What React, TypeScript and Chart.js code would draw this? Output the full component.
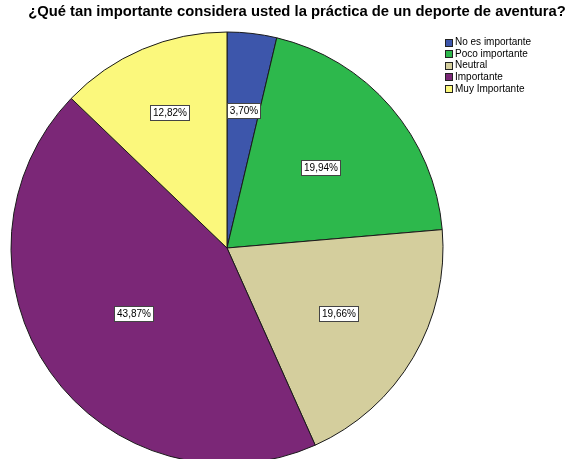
import React, { useEffect, useRef } from "react";
import { Chart, registerables } from "chart.js";

Chart.register(...registerables);

const chartTitle = "¿Qué tan importante considera usted la práctica de un deporte de aventura?";
const categories = ["No es importante", "Poco importante", "Neutral", "Importante", "Muy Importante"];
const percentages = [3.7, 19.94, 19.66, 43.87, 12.82];
const percentLabels = ["3,70%", "19,94%", "19,66%", "43,87%", "12,82%"];
const sliceColors = ["#3D56AB", "#2DB84C", "#D4CE9D", "#7B2777", "#FBF87C"];
const labelRadiusFraction = [0.64, 0.57, 0.6, 0.53, 0.68];

const overlayPlugin = {
  id: "spssOverlay",
  afterDatasetsDraw(chart: any) {
    const ctx = chart.ctx;
    const meta = chart.getDatasetMeta(0);
    ctx.save();
    ctx.font = "10px 'Liberation Sans', Arial, sans-serif";
    ctx.textAlign = "center";
    ctx.textBaseline = "middle";
    meta.data.forEach((arc: any, i: number) => {
      const p = arc.getProps(["x", "y", "startAngle", "endAngle", "outerRadius"], true);
      const mid = (p.startAngle + p.endAngle) / 2;
      const r = p.outerRadius * labelRadiusFraction[i];
      const px = p.x + Math.cos(mid) * r;
      const py = p.y + Math.sin(mid) * r;
      const text = percentLabels[i];
      const w = Math.round(ctx.measureText(text).width + 5);
      const h = 15;
      const bx = Math.round(px - w / 2) + 0.5;
      const by = Math.round(py - h / 2) + 0.5;
      ctx.fillStyle = "#FFFFFF";
      ctx.fillRect(bx, by, w, h);
      ctx.strokeStyle = "#444444";
      ctx.lineWidth = 1;
      ctx.strokeRect(bx, by, w, h);
      ctx.fillStyle = "#000000";
      ctx.fillText(text, bx + w / 2, by + h / 2 + 0.5);
    });
    ctx.restore();
  },
  afterDraw(chart: any) {
    const ctx = chart.ctx;
    ctx.save();
    ctx.fillStyle = "#000000";
    ctx.font = "bold 14.8px 'Liberation Sans', Arial, sans-serif";
    ctx.textAlign = "center";
    ctx.textBaseline = "middle";
    ctx.fillText(chartTitle, 297, 12);
    ctx.font = "10px 'Liberation Sans', Arial, sans-serif";
    ctx.textAlign = "left";
    categories.forEach((c, i) => {
      const cy = 42 + i * 11.6;
      const sy = Math.round(cy - 3.5) + 0.5;
      ctx.fillStyle = sliceColors[i];
      ctx.fillRect(445.5, sy, 7, 7);
      ctx.strokeStyle = "#222222";
      ctx.lineWidth = 1;
      ctx.strokeRect(445.5, sy, 7, 7);
      ctx.fillStyle = "#000000";
      ctx.fillText(c, 455, cy + 0.5);
    });
    ctx.restore();
  },
};

export default function App() {
  const ref = useRef<HTMLCanvasElement | null>(null);
  useEffect(() => {
    document.body.style.margin = "0";
    if (!ref.current) return;
    const chart = new Chart(ref.current, {
      type: "pie",
      data: {
        labels: categories,
        datasets: [
          {
            data: percentages,
            backgroundColor: sliceColors,
            borderColor: "#1a1a1a",
            borderWidth: 1,
            radius: 216,
          } as any,
        ],
      },
      options: {
        responsive: false,
        animation: false,
        layout: { padding: { left: 11, right: 125, top: 37, bottom: 0 } },
        plugins: {
          legend: { display: false },
          title: { display: false },
          tooltip: { enabled: false },
        },
      },
      plugins: [overlayPlugin],
    });
    return () => chart.destroy();
  }, []);
  return (
    <div style={{ position: "absolute", left: 0, top: 0, width: 568, height: 459, background: "#fff" }}>
      <canvas ref={ref} width={568} height={459} style={{ width: 568, height: 459 }} />
    </div>
  );
}
